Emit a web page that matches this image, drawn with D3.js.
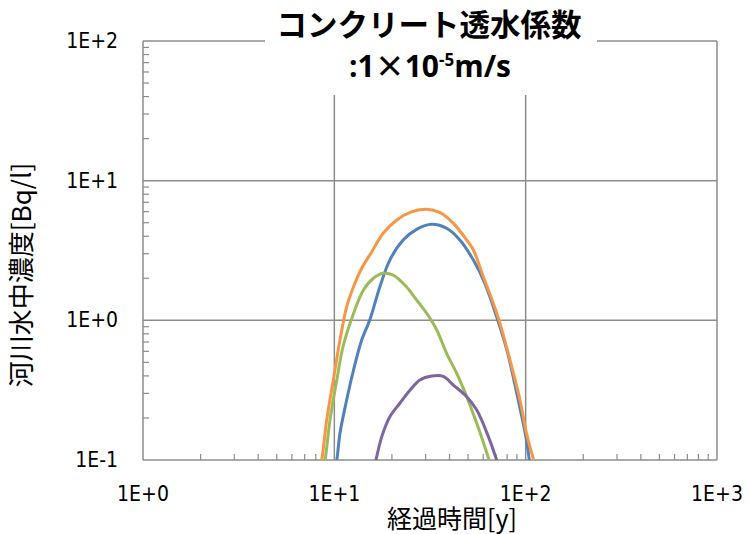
<!DOCTYPE html>
<html><head><meta charset="utf-8">
<script src="https://cdn.jsdelivr.net/npm/d3@7"></script>
<style>body{margin:0;background:#fff}</style>
</head><body>
<svg id="c" width="749" height="534"></svg>
<script>
// Data: time [y], concentration [Bq/l]
const orange = [[8.4,0.09],[8.59,0.1],[9.12,0.193],[9.88,0.374],[10.7,0.722],[11.6,1.25],[12.6,1.74],[13.9,2.36],[15.7,3.10],[18.0,4.20],[21.2,5.23],[24.9,5.93],[30.4,6.24],[35.7,5.90],[41.9,4.95],[49.2,3.76],[53.3,3.19],[60.1,2.05],[67.8,1.32],[73.4,0.952],[82.8,0.52],[93.4,0.269],[101,0.155],[110,0.1],[112,0.09]];
const blue = [[10.1,0.09],[10.3,0.1],[10.7,0.155],[11.6,0.269],[12.6,0.441],[13.9,0.722],[15.3,1.0],[17.3,1.74],[19.5,2.70],[22.9,3.76],[26.9,4.48],[32.3,4.87],[38.6,4.56],[45.3,3.76],[53.3,2.70],[61.2,1.84],[70.5,1.06],[79.7,0.614],[89.9,0.30],[101,0.139],[104.5,0.1],[106,0.09]];
const green = [[8.75,0.09],[8.94,0.1],[9.49,0.193],[10.3,0.374],[11.1,0.647],[12.6,1.12],[14.2,1.65],[16.0,2.0],[18.0,2.17],[20.3,2.11],[23.8,1.74],[26.9,1.40],[30.4,1.12],[34.3,0.853],[38.6,0.581],[43.6,0.418],[49.2,0.284],[55.5,0.183],[61.2,0.124],[64.4,0.1],[66,0.09]];
const purple = [[16.2,0.09],[16.5,0.1],[17.7,0.147],[19.5,0.204],[22.0,0.255],[24.9,0.317],[28.0,0.374],[32.3,0.399],[37.1,0.397],[41.9,0.344],[49.2,0.284],[55.5,0.228],[62.9,0.155],[70.5,0.1],[72,0.09]];
const seriesColors = ["#4F81BD","#F79646","#9BBB59","#8064A2"];
const xTicks = [1,10,100,1000];
const xTickLabels = ["1E+0","1E+1","1E+2","1E+3"];
const yTicks = [0.1,1,10,100];
const yTickLabels = ["1E-1","1E+0","1E+1","1E+2"];
const titleLine1 = "コンクリート透水係数";
const xLabel = "経過時間[y]";
const yLabel = "河川水中濃度[Bq/l]";

const svg = d3.select("#c");
const L=143, R=717, T=41, B=460;
const x = d3.scaleLog().domain([1,1000]).range([L,R]);
const y = d3.scaleLog().domain([0.1,100]).range([B,T]);
const grid="#8c8c8c";

// minor ticks
const minorX=[], minorY=[];
for (let d=1; d<1000; d*=10) for (let k=2;k<10;k++) minorX.push(d*k);
for (let d=0.1; d<99; d*=10) for (let k=2;k<10;k++) minorY.push(+(d*k).toPrecision(3));

// gridlines
svg.append("g").selectAll("line").data(xTicks.slice(1)).join("line")
  .attr("x1",d=>x(d)).attr("x2",d=>x(d)).attr("y1",T).attr("y2",B)
  .attr("stroke",grid).attr("stroke-width",1.5);
svg.append("g").selectAll("line").data(yTicks.slice(1)).join("line")
  .attr("y1",d=>y(d)).attr("y2",d=>y(d)).attr("x1",L).attr("x2",R)
  .attr("stroke",grid).attr("stroke-width",1.5);

// minor ticks
svg.append("g").selectAll("line").data(minorY).join("line")
  .attr("x1",L).attr("x2",L+6).attr("y1",d=>y(d)).attr("y2",d=>y(d))
  .attr("stroke",grid).attr("stroke-width",1.2);
svg.append("g").selectAll("line").data(minorX).join("line")
  .attr("y1",B).attr("y2",B-6).attr("x1",d=>x(d)).attr("x2",d=>x(d))
  .attr("stroke",grid).attr("stroke-width",1.2);

// axes lines
svg.append("line").attr("x1",L).attr("x2",L).attr("y1",T).attr("y2",B).attr("stroke",grid).attr("stroke-width",1.5);
svg.append("line").attr("x1",L).attr("x2",R).attr("y1",B).attr("y2",B).attr("stroke",grid).attr("stroke-width",1.5);

// clip
svg.append("defs").append("clipPath").attr("id","clip").append("rect")
  .attr("x",L).attr("y",T).attr("width",R-L).attr("height",B-T);

const line = d3.line().x(d=>x(d[0])).y(d=>y(d[1])).curve(d3.curveCatmullRom.alpha(0.5));
const gL = svg.append("g").attr("clip-path","url(#clip)");
[blue,orange,green,purple].forEach((s,i)=>{
  gL.append("path").datum(s).attr("d",line).attr("fill","none")
    .attr("stroke",seriesColors[i]).attr("stroke-width",3).attr("stroke-linejoin","round");
});

// title background box
svg.append("rect").attr("x",265).attr("y",0).attr("width",332).attr("height",95).attr("fill","#fff");

// tick labels
const tickFont = "'Liberation Sans Narrow','DejaVu Sans Condensed','Noto Sans CJK JP',sans-serif";
svg.append("g").selectAll("text").data(yTicks).join("text")
  .attr("x",118).attr("y",d=>y(d)+7).attr("text-anchor","end")
  .attr("font-family",tickFont).attr("font-size",21).attr("fill","#000")
  .text((d,i)=>yTickLabels[i]);
svg.append("g").selectAll("text").data(xTicks).join("text")
  .attr("x",d=>x(d)).attr("y",501).attr("text-anchor","middle")
  .attr("font-family",tickFont).attr("font-size",21).attr("fill","#000")
  .text((d,i)=>xTickLabels[i]);

// axis titles
const jp = "'Noto Sans CJK JP',sans-serif";
svg.append("text").attr("x",452).attr("y",528).attr("text-anchor","middle")
  .attr("font-family",jp).attr("font-size",25).text(xLabel);
svg.append("text").attr("transform","translate(31,275) rotate(-90)").attr("text-anchor","middle")
  .attr("font-family",jp).attr("font-size",26).text(yLabel);

// chart title
svg.append("text").attr("x",429).attr("y",36).attr("text-anchor","middle")
  .attr("font-family",jp).attr("font-weight","bold").attr("font-size",30.5).text(titleLine1);
const t2 = svg.append("text").attr("x",430).attr("y",77).attr("text-anchor","middle")
  .attr("font-family","'Open Sans',sans-serif").attr("font-weight","bold").attr("font-size",30);
t2.append("tspan").text(":1");
t2.append("tspan").attr("font-family",jp).text("\u00d7");
t2.append("tspan").text("10");
t2.append("tspan").attr("dy",-11).attr("font-size",17).text("-5");
t2.append("tspan").attr("dy",11).text("m/s");
</script>
</body></html>
